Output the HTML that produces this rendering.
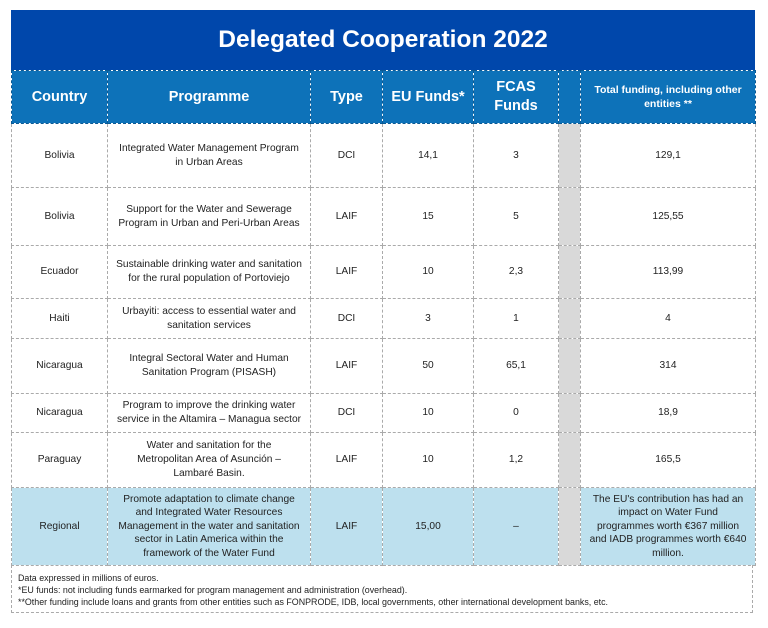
<!DOCTYPE html><html><head><style>
body{margin:0;width:768px;height:628px;background:#fff;font-family:"Liberation Sans",sans-serif;position:relative}
.t{position:absolute;left:11px;top:10px;width:744px;height:60px;background:#0047ab;color:#fff;font-weight:bold;font-size:24.5px;text-align:center;line-height:60px}
table{position:absolute;left:11px;top:70px;border-collapse:collapse;table-layout:fixed;width:744px}
td{border:1px dashed #aaa;text-align:center;vertical-align:middle;font-size:10.2px;color:#222;padding:0 2px;line-height:14px;white-space:nowrap;overflow:hidden}
tr.h td{background:#0d72b9;color:#fff;font-weight:bold;font-size:14.5px;line-height:19px;border-color:#0a5a95}
tr.h td.s{font-size:10.5px;line-height:14px;white-space:normal}
td.g{background:#d9d9d9}
tr.r td{background:#bde0ee;line-height:13.5px}
tr.r td.g{background:#d9d9d9}
.f{position:absolute;left:11px;top:565px;width:742px;height:48px;border:1px dashed #aaa;border-top:none;font-size:8.9px;color:#222;line-height:12px;padding:7px 0 0 6px;box-sizing:border-box}
</style></head><body>
<div class="t">Delegated Cooperation 2022</div>
<table>
<colgroup><col style="width:96px"><col style="width:203px"><col style="width:72px"><col style="width:91px"><col style="width:85px"><col style="width:22px"><col style="width:175px"></colgroup>
<tr class="h" style="height:53px"><td>Country</td><td>Programme</td><td>Type</td><td>EU Funds*</td><td>FCAS<br>Funds</td><td class="g"></td><td class="s">Total funding, including other entities **</td></tr>
<tr style="height:64px"><td>Bolivia</td><td>Integrated Water Management Program<br>in Urban Areas</td><td>DCI</td><td>14,1</td><td>3</td><td class="g"></td><td>129,1</td></tr>
<tr style="height:58px"><td>Bolivia</td><td>Support for the Water and Sewerage<br>Program in Urban and Peri-Urban Areas</td><td>LAIF</td><td>15</td><td>5</td><td class="g"></td><td>125,55</td></tr>
<tr style="height:53px"><td>Ecuador</td><td>Sustainable drinking water and sanitation<br>for the rural population of Portoviejo</td><td>LAIF</td><td>10</td><td>2,3</td><td class="g"></td><td>113,99</td></tr>
<tr style="height:40px"><td>Haiti</td><td>Urbayiti: access to essential water and<br>sanitation services</td><td>DCI</td><td>3</td><td>1</td><td class="g"></td><td>4</td></tr>
<tr style="height:55px"><td>Nicaragua</td><td>Integral Sectoral Water and Human<br>Sanitation Program (PISASH)</td><td>LAIF</td><td>50</td><td>65,1</td><td class="g"></td><td>314</td></tr>
<tr style="height:39px"><td>Nicaragua</td><td>Program to improve the drinking water<br>service in the Altamira – Managua sector</td><td>DCI</td><td>10</td><td>0</td><td class="g"></td><td>18,9</td></tr>
<tr style="height:55px"><td>Paraguay</td><td>Water and sanitation for the<br>Metropolitan Area of Asunción –<br>Lambaré Basin.</td><td>LAIF</td><td>10</td><td>1,2</td><td class="g"></td><td>165,5</td></tr>
<tr class="r" style="height:78px"><td>Regional</td><td>Promote adaptation to climate change<br>and Integrated Water Resources<br>Management in the water and sanitation<br>sector in Latin America within the<br>framework of the Water Fund</td><td>LAIF</td><td>15,00</td><td>–</td><td class="g"></td><td>The EU's contribution has had an<br>impact on Water Fund<br>programmes worth €367 million<br>and IADB programmes worth €640<br>million.</td></tr>
</table>
<div class="f">Data expressed in millions of euros.<br>*EU funds: not including funds earmarked for program management and administration (overhead).<br>**Other funding include loans and grants from other entities such as FONPRODE, IDB, local governments, other international development banks, etc.</div>
</body></html>
